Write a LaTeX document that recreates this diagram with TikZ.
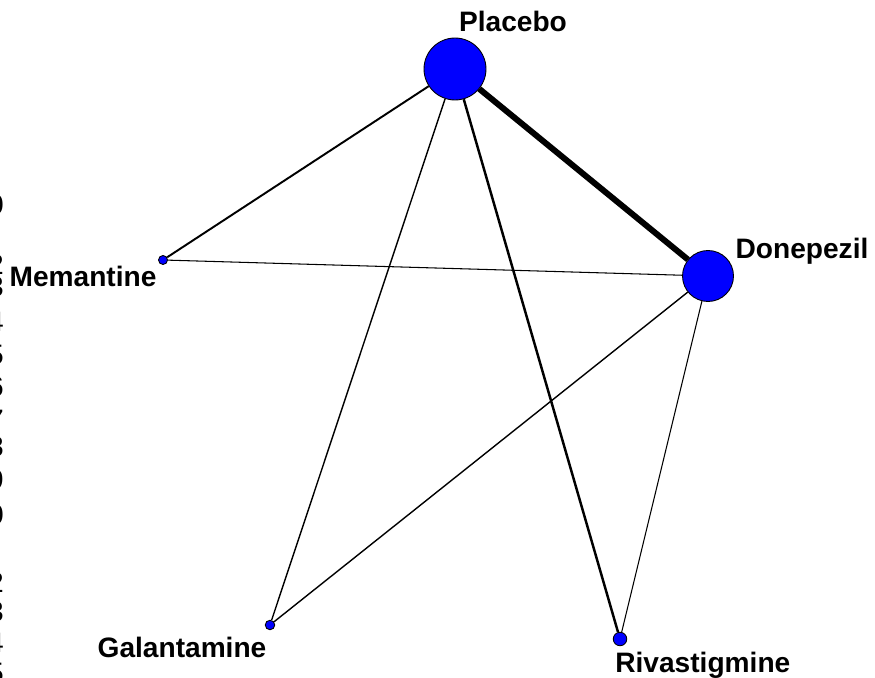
\documentclass[tikz,border=0pt]{standalone}
\usepackage{fontspec}
\setmainfont{Liberation Sans}
\tikzset{
	drug/.style={circle, draw=black, fill=blue, inner sep=0pt, line width=0.5pt},
	lbl/.style={font=\bfseries\fontsize{16}{19}\selectfont, inner sep=0pt},
	lineno/.style={font=\fontsize{16}{19}\selectfont, inner sep=0pt},
	link/.style={draw=black, line width=#1}
}

\begin{document}
\begin{tikzpicture}[x=0.02cm, y=-0.02cm]
        \useasboundingbox (0,0) rectangle (875,678);
        \clip (0,0) rectangle (875,678);
        \node[drug, minimum size=1.24cm] (pla) at (455,69) {};
        \node[drug, minimum size=1.02cm] (don) at (708,276) {};
        \node[drug, minimum size=0.18cm] (mem) at (163,260) {};
        \node[drug, minimum size=0.19cm] (gal) at (270,625) {};
        \node[drug, minimum size=0.27cm] (riv) at (620,639) {};
        \node[lbl, anchor=base] (pla-l) at (513,32) {Placebo};
        \node[lbl, anchor=base] (don-l) at (802,259) {Donepezil};
        \node[lbl, anchor=base] (mem-l) at (83,287) {Memantine};
        \node[lbl, anchor=base] (gal-l) at (182,657) {Galantamine};
        \node[lbl, anchor=base west] (riv-l) at (615,672) {Rivastigmine};
        \draw[link=3.4pt] (pla) -- (don);
        \draw[link=1.1pt] (pla) -- (mem);
        \draw[link=0.8pt] (pla) -- (gal);
        \draw[link=1.4pt] (pla) -- (riv);
        \draw[link=0.6pt] (don) -- (mem)
        (don) -- (riv);
        \draw[link=0.8pt] (don) -- (gal);
        % clipped line numbers at the left edge
        \foreach \d/\y [count=\i] in {0/205,2/265,3/287,4/322,5/355,6/387,7/420,8/447,9/480,0/515,2/583,3/612,4/643,5/673}
                \node[lineno] (ln\i) at (-4,\y) {\d};
    \end{tikzpicture}
\end{document}
